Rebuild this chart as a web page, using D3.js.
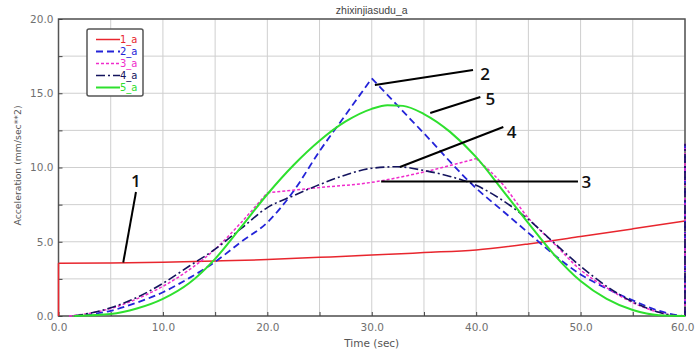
<!DOCTYPE html>
<html>
  <head>
    <title>zhixinjiasudu_a</title>
    <meta charset="UTF-8" />
    <style>
      body { margin: 0; background: #fff; }
      svg { display: block; }
    </style>
  </head>
  <body>
    <script src="https://cdn.jsdelivr.net/npm/d3@7/dist/d3.min.js" charset="utf-8"></script>
    <script>
      // values: [time (sec), acceleration (mm/sec**2)]
      var s1 = [[0,0],[0,3.55],[5,3.57],[10,3.62],[15,3.7],[20,3.8],[25,3.95],[30,4.1],[35,4.27],
                [40,4.45],[45,4.85],[50,5.35],[55,5.87],[60,6.4]];
      var s2 = [[1.5,0],[5,0.35],[7.5,0.9],[10,1.6],[12.5,2.55],[15,3.65],[17.5,5.0],[20,6.3],[22.5,8.4],
                [25,11.1],[27.5,13.55],[30,16.0],[35,12.3],[40,8.6],[42.5,7.1],[45,5.6],[47.5,4.1],
                [50,2.8],[52.5,1.85],[55,1.05],[57.5,0.35],[59.5,0.03],[60,0],[60,11.6]];
      var s3 = [[1,0],[5,0.5],[7.5,1.15],[10,2.0],[12.5,3.1],[15,4.5],[17.5,6.3],[20,8.3],[25,8.65],
                [30,9.0],[35,9.7],[40,10.6],[42.5,8.9],[45,6.6],[47.5,4.85],[50,3.1],[52.5,1.9],
                [55,0.9],[57.5,0.25],[59.5,0],[60,0],[60,11.6]];
      var s4 = [[1.5,0],[5,0.55],[7.5,1.25],[10,2.2],[12.5,3.35],[15,4.5],[17.5,5.9],[20,7.3],[22.5,8.1],
                [25,8.85],[27.5,9.5],[30,9.95],[32.5,10.05],[35,9.8],[37.5,9.4],[40,8.8],[42.5,7.8],
                [45,6.5],[47.5,4.9],[50,3.35],[52.5,2.0],[55,0.95],[57.5,0.25],[59.5,0],[60,0],[60,11.6]];
      var s5 = [[1.5,0],[5,0.13],[7.5,0.5],[10,1.15],[12.5,2.2],[15,3.85],[17.5,6.0],[20,8.2],[22.5,10.15],
                [25,11.8],[27.5,13.1],[30,13.95],[31.5,14.2],[33,14.15],[35,13.6],[37.5,12.4],
                [40,10.7],[42.5,8.5],[45,6.25],[47.5,4.1],[50,2.35],[52.5,1.15],[55,0.4],[57.5,0.05],[60,0]];

      var seriesNames = ["1_a", "2_a", "3_a", "4_a", "5_a"];
      var seriesData = [s1, s2, s3, s4, s5];
      var seriesKinks = [[], [30], [20, 40], [], []];   // sharp corners in the curve
      var seriesColors = ["#e8262e", "#2424d8", "#f02ccc", "#14145e", "#2ee02e"];
      var seriesDash = [null, "7,4", "3,2", "9,3,2,3", null];
      var seriesWidth = [1.5, 1.8, 1.5, 1.6, 2];

      var xTicks = [0, 10, 20, 30, 40, 50, 60];
      var yTicks = [0, 5, 10, 15, 20];

      // callouts: curve point -> label point, in data units
      var calloutText = ["1", "2", "3", "4", "5"];
      var calloutFrom = [[6.2,3.6],[30.3,15.55],[30.9,9.06],[32.7,10.03],[35.6,13.67]];
      var calloutTo = [[7.42,8.35],[39.7,16.57],[49.75,9.06],[42.6,12.73],[40.4,14.75]];
      var calloutLabel = [[7.42,9.1],[40.85,16.3],[50.55,9.06],[43.4,12.4],[41.35,14.65]];

      var width = 695, height = 354;
      var padL = 58.5, padR = 685, padT = 19, padB = 316;

      var x = d3.scaleLinear().domain([0, 60]).range([padL, padR]);
      var y = d3.scaleLinear().domain([0, 20]).range([padB, padT]);

      var svg = d3.select("body").append("svg")
        .attr("width", width)
        .attr("height", height)
        .style("font-family", "'DejaVu Sans', sans-serif");

      // grid
      var grid = svg.append("g").attr("stroke", "#cfcfcf").attr("stroke-width", 1);
      grid.selectAll("line.v").data(d3.range(0, 61, 5)).enter().append("line")
        .attr("x1", function(d) { return x(d); }).attr("x2", function(d) { return x(d); })
        .attr("y1", padT).attr("y2", padB);
      grid.selectAll("line.h").data(d3.range(0, 20.1, 2.5)).enter().append("line")
        .attr("y1", function(d) { return y(d); }).attr("y2", function(d) { return y(d); })
        .attr("x1", padL).attr("x2", padR);

      // frame
      svg.append("rect")
        .attr("x", padL).attr("y", padT)
        .attr("width", padR - padL).attr("height", padB - padT)
        .attr("fill", "none").attr("stroke", "#555").attr("stroke-width", 1.5);

      // axes with inward ticks
      var xAxis = d3.axisBottom(x).tickValues(d3.range(0, 61, 5)).tickSizeInner(-4).tickSizeOuter(0)
        .tickFormat(function(d) { return xTicks.indexOf(d) >= 0 ? d3.format(".1f")(d) : ""; });
      var yAxis = d3.axisLeft(y).tickValues(d3.range(0, 20.1, 2.5)).tickSizeInner(-4).tickSizeOuter(0)
        .tickFormat(function(d) { return yTicks.indexOf(d) >= 0 ? d3.format(".1f")(d) : ""; });

      var gx = svg.append("g").attr("transform", "translate(0," + padB + ")").call(xAxis);
      var gy = svg.append("g").attr("transform", "translate(" + padL + ",0)").call(yAxis);
      [gx, gy].forEach(function(g) {
        g.select(".domain").remove();
        g.selectAll(".tick line").attr("stroke", "#444");
        g.selectAll(".tick text").attr("fill", "#707070").style("font-size", "10.5px")
          .style("font-family", "'DejaVu Sans', sans-serif");
      });
      gx.selectAll(".tick text").attr("y", 6).attr("dy", "0.9em");
      gy.selectAll(".tick text").attr("x", -5);
      // last x label sits against the window edge
      gx.selectAll(".tick text").filter(function(d) { return d === 60; })
        .attr("text-anchor", "end").attr("x", 9);

      // curves, split into pieces at vertical jumps and kinks
      function pieces(pts, kinks) {
        var out = [], cur = [pts[0]];
        for (var i = 1; i < pts.length; i++) {
          if (pts[i][0] === pts[i - 1][0]) {
            if (cur.length > 1) out.push(cur);
            out.push([pts[i - 1], pts[i]]);
            cur = [pts[i]];
          } else {
            cur.push(pts[i]);
            if (kinks.indexOf(pts[i][0]) >= 0) {
              out.push(cur);
              cur = [pts[i]];
            }
          }
        }
        if (cur.length > 1) out.push(cur);
        return out;
      }

      var line = d3.line()
        .x(function(d) { return x(d[0]); })
        .y(function(d) { return y(d[1]); })
        .curve(d3.curveMonotoneX);

      var plot = svg.append("g");
      seriesData.forEach(function(pts, k) {
        var dStr = pieces(pts, seriesKinks[k]).map(function(p) { return line(p); }).join("");
        plot.append("path")
          .attr("d", dStr)
          .attr("fill", "none")
          .attr("stroke", seriesColors[k])
          .attr("stroke-width", seriesWidth[k])
          .attr("stroke-dasharray", seriesDash[k]);
      });

      // callouts
      var call = svg.append("g");
      calloutText.forEach(function(t, i) {
        call.append("line")
          .attr("x1", x(calloutFrom[i][0])).attr("y1", y(calloutFrom[i][1]))
          .attr("x2", x(calloutTo[i][0])).attr("y2", y(calloutTo[i][1]))
          .attr("stroke", "#000").attr("stroke-width", 2);
        call.append("text")
          .attr("x", x(calloutLabel[i][0])).attr("y", y(calloutLabel[i][1]))
          .attr("text-anchor", "middle").attr("dominant-baseline", "central")
          .style("font-family", "'Open Sans', 'Noto Sans', sans-serif")
          .style("font-size", "17px").style("font-weight", "600")
          .attr("fill", "#111").text(t);
      });

      // legend
      var legend = svg.append("g");
      legend.append("rect")
        .attr("x", 87).attr("y", 29).attr("width", 56).attr("height", 67)
        .attr("rx", 2).attr("fill", "#fff").attr("stroke", "#555").attr("stroke-width", 1.5);
      seriesNames.forEach(function(n, k) {
        var ly = 39.5 + k * 12;
        legend.append("line")
          .attr("x1", 96).attr("x2", 120).attr("y1", ly).attr("y2", ly)
          .attr("stroke", seriesColors[k]).attr("stroke-width", seriesWidth[k])
          .attr("stroke-dasharray", seriesDash[k]);
        legend.append("text")
          .attr("x", 120).attr("y", ly).attr("dominant-baseline", "central")
          .style("font-size", "10px").attr("fill", seriesColors[k]).text(n);
      });

      // titles
      svg.append("text")
        .attr("x", (padL + padR) / 2).attr("y", 10).attr("text-anchor", "middle")
        .attr("dominant-baseline", "central")
        .style("font-family", "'Liberation Sans', sans-serif").style("font-size", "10.5px")
        .attr("fill", "#444").text("zhixinjiasudu_a");
      svg.append("text")
        .attr("x", (padL + padR) / 2).attr("y", 343).attr("text-anchor", "middle")
        .attr("dominant-baseline", "central")
        .style("font-size", "10.5px").attr("fill", "#555").text("Time (sec)");
      svg.append("text")
        .attr("transform", "translate(17," + ((padT + padB) / 2 - 2) + ") rotate(-90)")
        .attr("text-anchor", "middle").attr("dominant-baseline", "central")
        .style("font-size", "9.3px").attr("fill", "#555").text("Acceleration (mm/sec**2)");
    </script>
  </body>
</html>
